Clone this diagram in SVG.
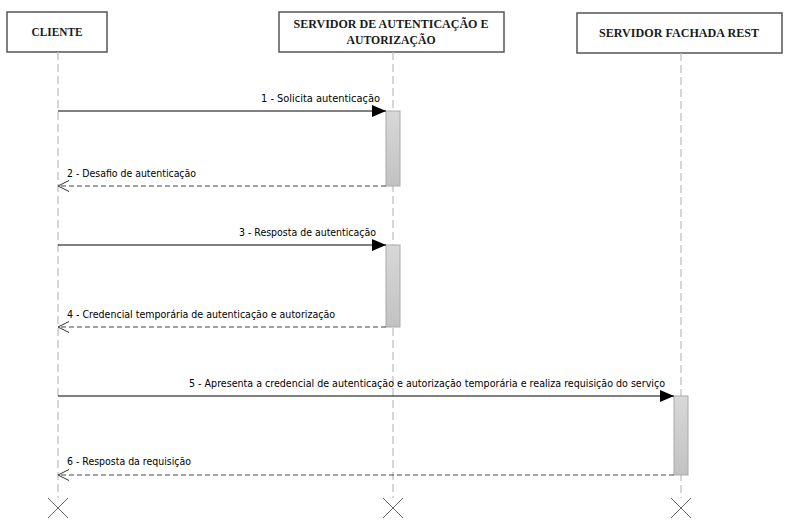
<svg xmlns="http://www.w3.org/2000/svg" width="786" height="529" viewBox="0 0 786 529">
<defs>
<linearGradient id="act" x1="0" y1="0" x2="0" y2="1">
<stop offset="0" stop-color="#d8d8d8"/>
<stop offset="1" stop-color="#c2c2c2"/>
</linearGradient>
<marker id="solid" markerWidth="14" markerHeight="12" refX="14" refY="6" orient="auto" markerUnits="userSpaceOnUse">
<path d="M0,0 L14,6 L0,12 Z" fill="#000"/>
</marker>
<marker id="open" markerWidth="12" markerHeight="12" refX="11" refY="6" orient="auto" markerUnits="userSpaceOnUse">
<path d="M0,0.5 L11,6 L0,11.5" fill="none" stroke="#333" stroke-width="1"/>
</marker>
</defs>
<style>
.box{fill:#fff;stroke:#555;stroke-width:1.5}
.hdr{font-family:"Liberation Serif",serif;font-weight:bold;font-size:12px;fill:#1a1a1a;text-anchor:middle}
.life{stroke:#bbb;stroke-width:1.2;stroke-dasharray:8 4;fill:none}
.actv{fill:url(#act);stroke:#aaa;stroke-width:1}
.msg{stroke:#000;stroke-width:1;fill:none}
.ret{stroke:#444;stroke-width:1;stroke-dasharray:5 3;fill:none}
.lbl{font-family:"DejaVu Sans Condensed","DejaVu Sans",sans-serif;font-size:11px;fill:#000}
.x{stroke:#666;stroke-width:1;fill:none}
</style>
<rect width="786" height="529" fill="#fff"/>
<g id="cliente">
<rect class="box" x="7" y="12" width="100" height="40"/>
<text class="hdr" x="57" y="36" textLength="51" lengthAdjust="spacingAndGlyphs">CLIENTE</text>
<line class="life" x1="58" y1="52" x2="58" y2="498"/>
<path class="x" d="M48,498 L68,518 M68,498 L48,518"/>
</g>
<g id="auth">
<rect class="box" x="279" y="12" width="225" height="40"/>
<text class="hdr" x="391" y="28" textLength="195" lengthAdjust="spacingAndGlyphs">SERVIDOR DE AUTENTICAÇÃO E</text>
<text class="hdr" x="391" y="44" textLength="89" lengthAdjust="spacingAndGlyphs">AUTORIZAÇÃO</text>
<line class="life" x1="393" y1="52" x2="393" y2="498"/>
<path class="x" d="M383,498 L403,518 M403,498 L383,518"/>
<rect class="actv" x="386" y="111" width="14" height="75"/>
<rect class="actv" x="386" y="245" width="14" height="82"/>
</g>
<g id="rest">
<rect class="box" x="577" y="13" width="205" height="40"/>
<text class="hdr" x="679" y="37" textLength="160" lengthAdjust="spacingAndGlyphs">SERVIDOR FACHADA REST</text>
<line class="life" x1="681" y1="53" x2="681" y2="498"/>
<path class="x" d="M671,498 L691,518 M691,498 L671,518"/>
<rect class="actv" x="674" y="396" width="14" height="79"/>
</g>
<g id="connectors">
<line class="msg" x1="58" y1="111" x2="386" y2="111" marker-end="url(#solid)"/>
<text class="lbl" x="261" y="102" textLength="119" lengthAdjust="spacingAndGlyphs">1 - Solicita autenticação</text>
<line class="ret" x1="386" y1="186" x2="58" y2="186" marker-end="url(#open)"/>
<text class="lbl" x="67" y="177" textLength="129" lengthAdjust="spacingAndGlyphs">2 - Desafio de autenticação</text>
<line class="msg" x1="58" y1="245" x2="386" y2="245" marker-end="url(#solid)"/>
<text class="lbl" x="239" y="236" textLength="137" lengthAdjust="spacingAndGlyphs">3 - Resposta de autenticação</text>
<line class="ret" x1="386" y1="327" x2="58" y2="327" marker-end="url(#open)"/>
<text class="lbl" x="67" y="318" textLength="268" lengthAdjust="spacingAndGlyphs">4 - Credencial temporária de autenticação e autorização</text>
<line class="msg" x1="58" y1="396" x2="674" y2="396" marker-end="url(#solid)"/>
<text class="lbl" x="189" y="387" textLength="476" lengthAdjust="spacingAndGlyphs">5 - Apresenta a credencial de autenticação e autorização temporária e realiza requisição do serviço</text>
<line class="ret" x1="674" y1="475" x2="58" y2="475" marker-end="url(#open)"/>
<text class="lbl" x="67" y="465" textLength="124" lengthAdjust="spacingAndGlyphs">6 - Resposta da requisição</text>
</g>
</svg>
